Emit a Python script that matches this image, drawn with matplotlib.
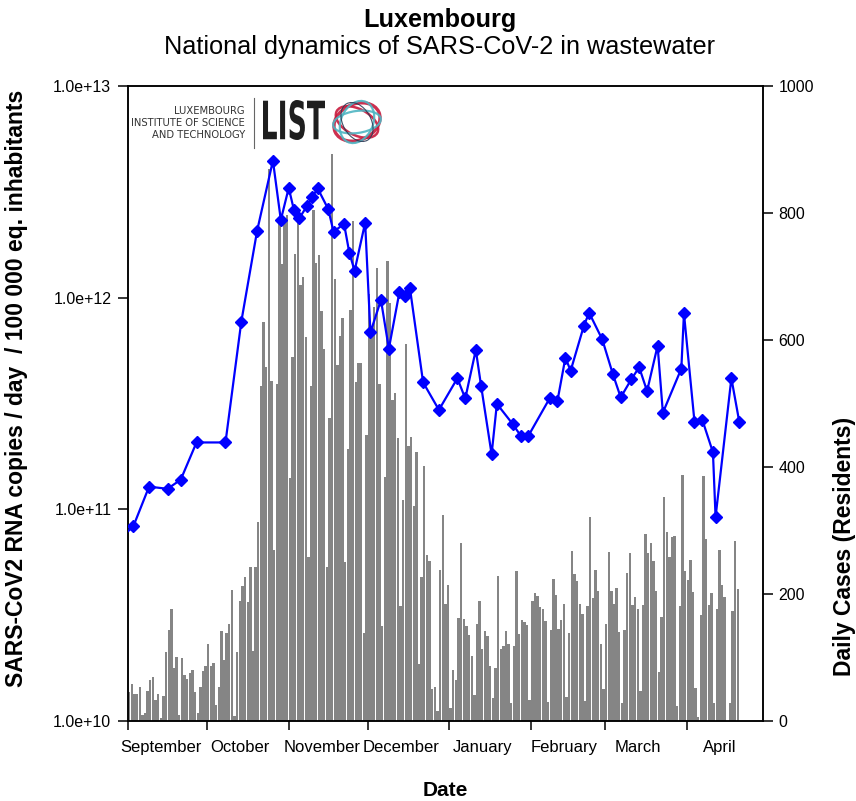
"""
Luxembourg: national dynamics of SARS-CoV-2 in wastewater.

Grey bars are daily cases (right axis), blue diamonds are the RNA load
in wastewater (left axis, log scale).
"""

import numpy as np
import pandas as pd
import matplotlib
matplotlib.use("Agg")
import matplotlib.pyplot as plt
import matplotlib.dates as mdates
from matplotlib.ticker import FixedLocator, FixedFormatter, NullFormatter, NullLocator, FuncFormatter
from matplotlib.textpath import TextPath
from matplotlib.patches import PathPatch, Ellipse
from matplotlib.font_manager import FontProperties
from matplotlib.transforms import Affine2D

plt.rcParams["font.family"] = ["Liberation Sans", "DejaVu Sans"]

# ── Data ──────────────────────────────────────────────────────────────────────

CASES_START = "2020-09-01"
daily_cases = [
    # September / October
    46, 58, 42, 42, 53, 9, 12, 47, 64, 69, 33, 42, 5, 39, 108, 144, 176, 83,
    101, 9, 99, 72, 66, 75, 81, 45, 12, 54, 78, 86, 122, 86, 91, 25, 53, 142,
    96, 138, 153, 206, 8, 108, 189, 213, 226, 188, 243, 111, 243,
    # late October / November
    314, 528, 629, 558, 869, 535, 270, 530, 789, 720, 792, 797, 382, 573, 735,
    804, 687, 700, 605, 258, 528, 805, 722, 734, 645, 586, 243, 477, 893, 696,
    560, 606, 635, 251, 429, 647, 788,
    # December
    534, 564, 564, 138, 450, 673, 613, 652, 713, 531, 150, 385, 725, 659, 506,
    516, 445, 181, 348, 594, 433, 448, 338, 423, 90, 226, 402, 261, 252, 51,
    53, 15, 238, 325, 185, 214,
    # January / February
    20, 80, 65, 162, 281, 160, 149, 135, 102, 41, 152, 189, 113, 142, 134, 86,
    36, 83, 228, 113, 118, 142, 122, 28, 118, 236, 137, 159, 156, 151, 33, 189,
    201, 197, 179, 176, 157, 30, 143, 223, 198, 145, 159, 184, 38, 138, 267,
    231, 220, 185, 168, 32, 181, 321, 193, 238, 204,
    # March / April
    121, 50, 153, 266, 205, 185, 209, 140, 28, 143, 233, 264, 182, 196, 176,
    48, 183, 294, 264, 280, 252, 205, 77, 163, 352, 297, 259, 289, 291, 24,
    181, 387, 237, 222, 254, 203, 52, 6, 167, 386, 287, 183, 201, 28, 177, 270,
    214, 196, 0, 28, 174, 283, 208,
]

ww_dates = [
    "2020-08-28", "2020-09-03", "2020-09-09", "2020-09-16", "2020-09-21",
    "2020-09-27", "2020-10-08", "2020-10-14", "2020-10-20", "2020-10-26",
    "2020-10-29", "2020-11-01", "2020-11-03", "2020-11-05", "2020-11-08",
    "2020-11-10", "2020-11-12", "2020-11-16", "2020-11-18", "2020-11-22",
    "2020-11-24", "2020-11-26", "2020-11-30", "2020-12-02", "2020-12-06",
    "2020-12-09", "2020-12-13", "2020-12-15", "2020-12-17", "2020-12-22",
    "2020-12-28", "2021-01-04", "2021-01-07", "2021-01-11", "2021-01-13",
    "2021-01-17", "2021-01-19", "2021-01-25", "2021-01-28", "2021-01-31",
    "2021-02-08", "2021-02-11", "2021-02-14", "2021-02-16", "2021-02-21",
    "2021-02-23", "2021-02-28", "2021-03-04", "2021-03-07", "2021-03-11",
    "2021-03-14", "2021-03-17", "2021-03-21", "2021-03-23", "2021-03-30",
    "2021-03-31", "2021-04-04", "2021-04-07", "2021-04-11", "2021-04-12",
    "2021-04-18", "2021-04-21",
]
ww_copies = [
    7.1e10, 8.3e10, 1.28e11, 1.25e11, 1.38e11, 2.07e11, 2.07e11, 7.7e11,
    2.07e12, 4.44e12, 2.33e12, 3.30e12, 2.59e12, 2.37e12, 2.72e12, 3.00e12,
    3.28e12, 2.62e12, 2.05e12, 2.23e12, 1.63e12, 1.34e12, 2.26e12, 6.85e11,
    9.75e11, 5.74e11, 1.06e12, 1.02e12, 1.11e12, 3.98e11, 2.95e11, 4.16e11,
    3.34e11, 5.66e11, 3.84e11, 1.82e11, 3.15e11, 2.53e11, 2.23e11, 2.23e11,
    3.34e11, 3.26e11, 5.20e11, 4.52e11, 7.35e11, 8.49e11, 6.35e11, 4.36e11,
    3.38e11, 4.11e11, 4.69e11, 3.62e11, 5.93e11, 2.86e11, 4.62e11, 8.43e11,
    2.59e11, 2.64e11, 1.86e11, 9.2e10, 4.16e11, 2.59e11,
]

month_starts = ["2020-09-01", "2020-10-01", "2020-11-01", "2020-12-01",
                "2021-01-01", "2021-02-01", "2021-03-01", "2021-04-01"]
month_names = ["September", "October", "November", "December",
               "January", "February", "March", "April"]

left_ticks = [1e10, 1e11, 1e12, 1e13]
right_ticks = [0, 200, 400, 600, 800, 1000]

# ── Figure ────────────────────────────────────────────────────────────────────

W, H = 856, 801
BAR = "#858585"
LINE = "#0000ff"

fig = plt.figure(figsize=(W / 100, H / 100), dpi=100)
fig.patch.set_facecolor("white")

ax = fig.add_axes([128 / W, 1 - 721 / H, 635 / W, 635 / H])
ax2 = ax.twinx()
ax.set_zorder(ax2.get_zorder() + 1)
ax.patch.set_visible(False)

case_days = mdates.date2num(pd.date_range(CASES_START, periods=len(daily_cases)))
ax2.bar(case_days, daily_cases, width=0.9, align="edge", color=BAR,
        edgecolor="none", zorder=1)

ax.plot(mdates.date2num(pd.to_datetime(ww_dates)), ww_copies, color=LINE,
        lw=1.6, marker="D", ms=6.5, mfc=LINE, mec=LINE, zorder=3)

# axes limits / scales
ax.set_yscale("log")
ax.set_ylim(1e10, 1e13)
ax2.set_ylim(0, 1000)
ax.set_xlim(mdates.date2num(pd.Timestamp("2020-09-01")),
            mdates.date2num(pd.Timestamp("2021-04-30")))

ax.yaxis.set_major_locator(FixedLocator(left_ticks))
ax.yaxis.set_minor_locator(NullLocator())
ax.yaxis.set_major_formatter(FuncFormatter(lambda v, _: f"{v:.1e}"))
ax2.yaxis.set_major_locator(FixedLocator(right_ticks))

month_nums = mdates.date2num(pd.to_datetime(month_starts))
ax.xaxis.set_major_locator(FixedLocator(month_nums))
ax.xaxis.set_major_formatter(NullFormatter())
ax.xaxis.set_minor_locator(FixedLocator(month_nums + 12.5))
ax.xaxis.set_minor_formatter(FixedFormatter(month_names))

ax.tick_params(axis="x", which="major", direction="out", length=6.5, width=1.1)
ax.tick_params(axis="x", which="minor", length=0, pad=14, labelsize=12)
ax.tick_params(axis="y", direction="out", length=7, width=1.1, pad=5, labelsize=11.5)
ax2.tick_params(axis="y", direction="out", length=7, width=1.1, pad=4, labelsize=11.5)

for a in (ax, ax2):
    for spine in a.spines.values():
        spine.set_linewidth(1.1)
        spine.set_color("black")

# ── Text ──────────────────────────────────────────────────────────────────────

fig.text(440 / W, 1 - 20 / H, "Luxembourg", ha="center", va="center",
         fontsize=18.2, fontweight="bold")
fig.text(440 / W, 1 - 47 / H, "National dynamics of SARS-CoV-2 in wastewater",
         ha="center", va="center", fontsize=18.2)
fig.text(17 / W, 1 - 388 / H,
         "SARS-CoV2 RNA copies / day  / 100 000 eq. inhabitants",
         rotation=90, ha="center", va="center", fontsize=16.5, fontweight="bold")
fig.text(845 / W, 1 - 546 / H, "Daily Cases (Residents)", rotation=90,
         ha="center", va="center", fontsize=16.5, fontweight="bold")
fig.text(445 / W, 1 - 790 / H, "Date", ha="center", va="center",
         fontsize=15, fontweight="bold")

# ── LIST logo ─────────────────────────────────────────────────────────────────

logo = fig.add_axes([160 / W, 1 - 150 / H, 225 / W, 55 / H])
logo.set_xlim(0, 225)
logo.set_ylim(0, 55)
logo.axis("off")

narrow = ["Liberation Sans Narrow", "DejaVu Sans"]
for i, line in enumerate(["LUXEMBOURG", "INSTITUTE OF SCIENCE", "AND TECHNOLOGY"]):
    logo.text(85, 38.5 - i * 11.7, line, ha="right", va="center",
              fontsize=7.2, family=narrow, color="#333333")
logo.plot([94, 94], [2, 52], color="#666666", lw=0.8)

tp = TextPath((0, 0), "LIST", size=40,
              prop=FontProperties(family=narrow, weight="bold"))
ext = tp.get_extents()
tr = (Affine2D().translate(-ext.x0, -ext.y0)
      .scale(62 / ext.width, 40 / ext.height).translate(103, 10))
logo.add_patch(PathPatch(tr.transform_path(tp), color="#1e1e1e", lw=0))

rings = [
    (48, 36, 25, "#c8193c", 2.4),
    (46, 26, -28, "#c8193c", 1.8),
    (44, 32, 65, "#4fb5c2", 1.6),
    (48, 22, 8, "#4fb5c2", 1.6),
    (42, 28, -60, "#2b3a55", 0.8),
]
for w, h, ang, col, lw in rings:
    logo.add_patch(Ellipse((197, 28), w, h, angle=ang, fill=False,
                           edgecolor=col, lw=lw, alpha=0.9))

fig.savefig("out.png", dpi=100)
